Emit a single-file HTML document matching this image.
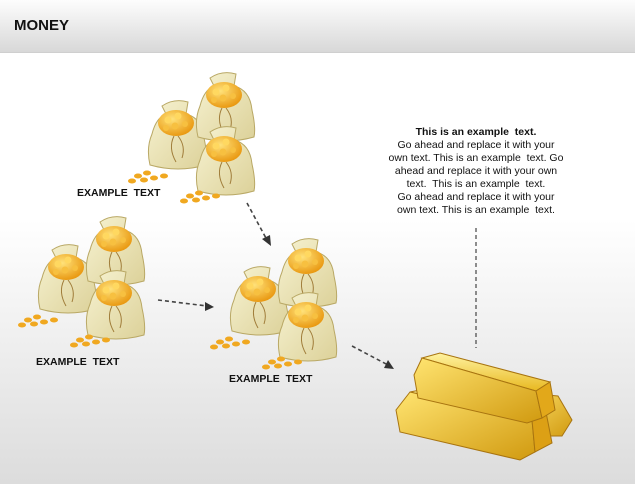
<!DOCTYPE html>
<html><head><meta charset="utf-8"><style>
html,body{margin:0;padding:0}
body{width:635px;height:484px;position:relative;overflow:hidden;font-family:"Liberation Sans",Arial,sans-serif;
background:linear-gradient(#fff 0,#fff 220px,#dcdcdc 484px)}
#hdr{position:absolute;left:0;top:0;width:635px;height:52px;background:linear-gradient(#fdfdfd,#d8d8d8);border-bottom:1px solid #cfcfcf}
#hdr b{position:absolute;left:14px;top:17px;font-size:15px;color:#111}
.lbl{position:absolute;font-size:10.5px;font-weight:bold;color:#111;white-space:nowrap}
#txt{position:absolute;left:366px;top:126px;width:220px;text-align:center;font-size:10.5px;line-height:13px;color:#111;white-space:nowrap}
svg{position:absolute;left:0;top:0}
</style></head><body>
<div id="hdr"><b>MONEY</b></div>
<svg width="635" height="484" viewBox="0 0 635 484">
<defs>
<linearGradient id="bg" x1="0" y1="0" x2="1" y2="1"><stop offset="0" stop-color="#f7f3d2"/><stop offset="1" stop-color="#dcd199"/></linearGradient>
<radialGradient id="cg" cx=".4" cy=".35" r=".7"><stop offset="0" stop-color="#ffe27a"/><stop offset="1" stop-color="#e8950c"/></radialGradient>
<g id="bag">
<path d="M14,8 Q26,0 40,4 L38,16 Q54,20 56,40 Q60,58 58,67 Q30,75 2,67 Q-2,50 4,36 Q8,20 18,16 Z" fill="url(#bg)" stroke="#b9a865" stroke-width="1"/>
<ellipse cx="28" cy="25" rx="18" ry="13" fill="url(#cg)"/>
<circle cx="20" cy="22" r="3.5" fill="#ffd860"/><circle cx="30" cy="18" r="3.5" fill="#ffd860"/><circle cx="27" cy="28" r="3.5" fill="#f7c040"/><circle cx="37" cy="26" r="3" fill="#f7c040"/><circle cx="18" cy="30" r="3" fill="#f7c040"/>
<path d="M26,38 Q20,50 28,64 M30,38 Q38,48 34,60" stroke="#a07d3a" stroke-width="1" fill="none"/>
</g>
<g id="coins" fill="#f0a820">
<ellipse cx="0" cy="0" rx="4" ry="2.5"/><ellipse cx="9" cy="-3" rx="4" ry="2.5"/><ellipse cx="6" cy="4" rx="4" ry="2.5"/><ellipse cx="16" cy="2" rx="4" ry="2.5"/><ellipse cx="-6" cy="5" rx="4" ry="2.5"/><ellipse cx="26" cy="0" rx="4" ry="2.5"/>
</g>
<g id="cl">
<use href="#bag" x="10" y="28"/>
<use href="#coins" x="0" y="106"/>
<use href="#bag" x="58" y="0"/>
<use href="#bag" x="58" y="54"/>
<use href="#coins" x="52" y="126"/>
</g>
</defs>
<use href="#cl" x="138" y="70"/>
<use href="#cl" x="28" y="214"/>
<use href="#cl" x="220" y="236"/>
<g stroke="#444" stroke-width="1.6" stroke-dasharray="4,3" fill="none">
<line x1="247" y1="203" x2="267" y2="240"/>
<line x1="158" y1="300" x2="207" y2="306"/>
<line x1="352" y1="346" x2="388" y2="365"/>
<line x1="476" y1="228" x2="476" y2="348" stroke-width="1.2"/>
</g>
<g fill="#333">
<polygon points="271,246 262,239 270,235"/>
<polygon points="214,307 205,302 205,311"/>
<polygon points="394,369 384,368 388,360"/>
</g>
<defs>
<linearGradient id="gt" x1="0" y1="0" x2="0" y2="1"><stop offset="0" stop-color="#fff3a0"/><stop offset="1" stop-color="#e8b820"/></linearGradient>
<linearGradient id="gf" x1="0" y1="0" x2="1" y2="1"><stop offset="0" stop-color="#ffe470"/><stop offset="1" stop-color="#d19a10"/></linearGradient>
</defs>
<polygon points="515,392 558,396 572,420 562,436 532,436" fill="url(#gf)" stroke="#a87410" stroke-width="1"/>
<polygon points="410,392 425,389 546,412 532,420" fill="url(#gt)" stroke="#a87410" stroke-width="1"/>
<polygon points="410,392 532,420 535,452 520,460 400,432 396,410" fill="url(#gf)" stroke="#a87410" stroke-width="1"/>
<polygon points="532,420 546,412 552,443 535,452" fill="#dca015" stroke="#a87410" stroke-width="1"/>
<polygon points="422,358 440,353 550,382 536,391" fill="url(#gt)" stroke="#a87410" stroke-width="1"/>
<polygon points="422,358 536,391 542,418 527,423 418,398 414,375" fill="url(#gf)" stroke="#a87410" stroke-width="1"/>
<polygon points="536,391 550,382 555,410 542,418" fill="#e2a81a" stroke="#a87410" stroke-width="1"/>
</svg>
<div class="lbl" style="left:77px;top:187px">EXAMPLE&nbsp; TEXT</div>
<div class="lbl" style="left:36px;top:356px">EXAMPLE&nbsp; TEXT</div>
<div class="lbl" style="left:229px;top:373px">EXAMPLE&nbsp; TEXT</div>
<div id="txt"><b>This is an example&nbsp; text.</b><br>Go ahead and replace it with your<br>own text. This is an example&nbsp; text. Go<br>ahead and replace it with your own<br>text.&nbsp; This is an example&nbsp; text.<br>Go ahead and replace it with your<br>own text. This is an example&nbsp; text.</div>
</body></html>
